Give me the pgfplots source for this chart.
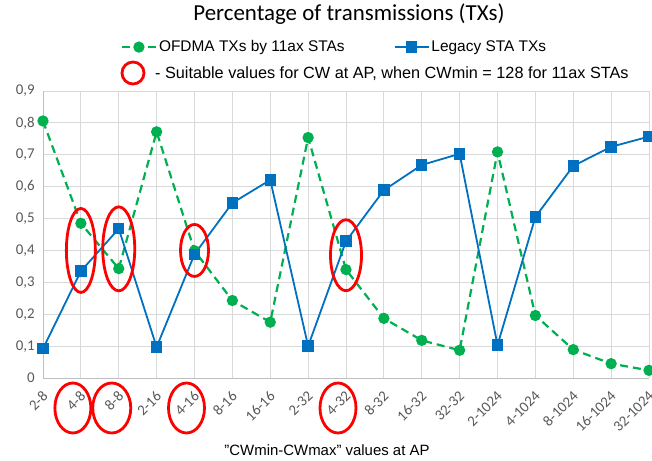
\documentclass[border=0pt]{standalone}
\usepackage{fontspec}
\setmainfont{Liberation Sans}
\newfontfamily\carlito{Carlito}
\usepackage{pgfplots}
\pgfplotsset{compat=1.18}
\definecolor{cgreen}{HTML}{00B050}
\definecolor{cblue}{HTML}{0070C0}
\definecolor{cred}{HTML}{FF0000}
\definecolor{tickgray}{HTML}{595959}
\definecolor{gridgray}{HTML}{D9D9D9}
\definecolor{axisgray}{HTML}{BFBFBF}
\begin{document}
\begin{tikzpicture}
\useasboundingbox (0bp,0bp) rectangle (652bp,461bp);
\begin{axis}[
  at={(43bp,83bp)}, anchor=south west,
  scale only axis, width=606bp, height=287bp,
  xmin=0, xmax=16, ymin=0, ymax=0.9,
  clip=false,
  xtick={0,1,2,3,4,5,6,7,8,9,10,11,12,13,14,15,16},
  xticklabels={2-8,4-8,8-8,2-16,4-16,8-16,16-16,2-32,4-32,8-32,16-32,32-32,2-1024,4-1024,8-1024,16-1024,32-1024},
  ytick={0,0.1,0.2,0.3,0.4,0.5,0.6,0.7,0.8,0.9},
  yticklabels={0,{0,1},{0,2},{0,3},{0,4},{0,5},{0,6},{0,7},{0,8},{0,9}},
  xticklabel style={xshift=3bp, yshift=-15bp, rotate=45, anchor=east, font=\carlito\fontsize{15}{18}\selectfont, text=tickgray, inner sep=1bp},
  yticklabel style={font=\carlito\fontsize{15}{18}\selectfont, text=tickgray, inner sep=2bp, xshift=-6bp},
  major tick length=0pt,
  grid=major,
  grid style={gridgray, line width=0.8bp},
  axis x line*=bottom, axis y line*=left,
  axis line style={axisgray, line width=1bp, -},
  legend style={at={(axis description cs:0.481,1.153)}, anchor=center, draw=none, fill=none,
    font=\fontsize{15.5}{18}\selectfont, inner sep=0pt,
    /tikz/every even column/.append style={column sep=47bp}},
  legend columns=2,
  legend cell align=left,
  legend image code/.code={\draw[mark repeat=2,mark phase=2] plot coordinates {(0bp,0bp) (17bp,0bp) (34bp,0bp)};},
]
\addplot[color=cgreen, line width=2.2bp, dash pattern=on 8bp off 5bp, mark=*, mark size=4.5bp, mark options={solid, fill=cgreen}]
coordinates {(0,0.806) (1,0.485) (2,0.343) (3,0.772) (4,0.399) (5,0.243) (6,0.175) (7,0.754) (8,0.340) (9,0.187) (10,0.118) (11,0.087) (12,0.709) (13,0.196) (14,0.089) (15,0.045) (16,0.024)};
\addlegendentry{OFDMA TXs by 11ax STAs}
\addplot[color=cblue, line width=1.8bp, mark=square*, mark size=4.8bp, mark options={solid, fill=cblue}]
coordinates {(0,0.092) (1,0.335) (2,0.468) (3,0.097) (4,0.388) (5,0.549) (6,0.621) (7,0.100) (8,0.429) (9,0.589) (10,0.668) (11,0.703) (12,0.103) (13,0.505) (14,0.665) (15,0.725) (16,0.757)};
\addlegendentry{Legacy STA TXs}
% red annotation ellipses
\draw[cred, line width=2.8bp] (axis cs:1,0.400) ellipse [x radius=14.5bp, y radius=42bp];
\draw[cred, line width=2.8bp] (axis cs:2,0.405) ellipse [x radius=16bp, y radius=42bp];
\draw[cred, line width=2.8bp] (axis cs:4,0.400) ellipse [x radius=14bp, y radius=26bp];
\draw[cred, line width=2.8bp] (axis cs:8,0.385) ellipse [x radius=15.5bp, y radius=35.5bp];
\draw[cred, line width=2.8bp] ([xshift=-8bp,yshift=-30bp]axis cs:1,0) ellipse [x radius=18bp, y radius=25bp];
\draw[cred, line width=2.8bp] ([xshift=-7bp,yshift=-30bp]axis cs:2,0) ellipse [x radius=19bp, y radius=25bp];
\draw[cred, line width=2.8bp] ([xshift=-8bp,yshift=-30bp]axis cs:4,0) ellipse [x radius=18bp, y radius=25bp];
\draw[cred, line width=2.8bp] ([xshift=-8bp,yshift=-30bp]axis cs:8,0) ellipse [x radius=18bp, y radius=25bp];
\end{axis}
% title
\node[anchor=base, font=\carlito\fontsize{23}{27}\selectfont] at (349bp,440bp) {Percentage of transmissions (TXs)};
% red legend row
\draw[cred, line width=2.8bp] (133bp,388bp) ellipse [x radius=11bp, y radius=11bp];
\node[anchor=base west, font=\fontsize{16.3}{19}\selectfont, inner sep=0pt] at (155bp,382bp) {- Suitable values for CW at AP, when CWmin = 128 for 11ax STAs};
% x label
\node[anchor=base, font=\fontsize{15}{18}\selectfont] at (327bp,6bp) {\symbol{34}CWmin-CWmax\symbol{34} values at AP};
\end{tikzpicture}
\end{document}
